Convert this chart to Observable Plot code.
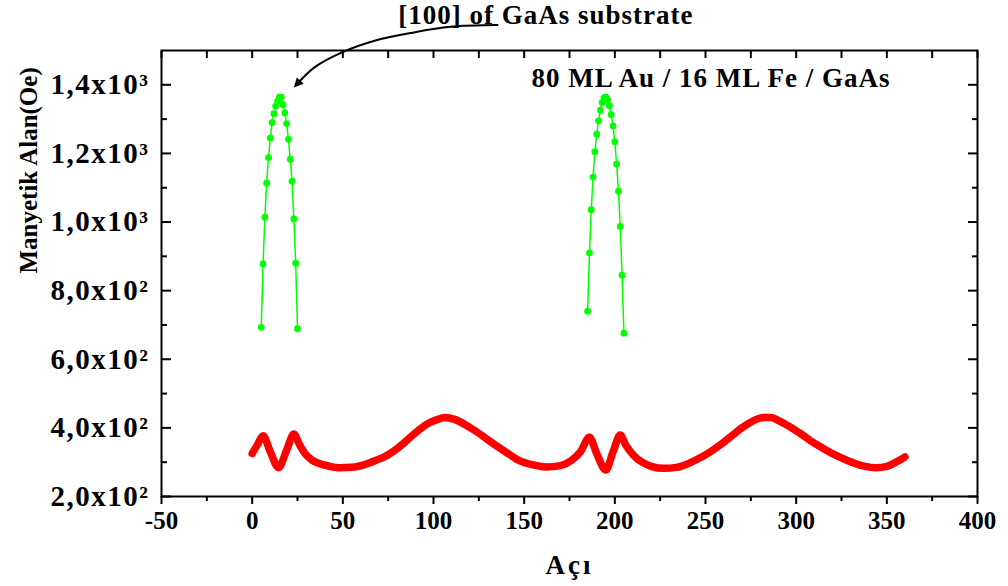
<!DOCTYPE html>
<html><head><meta charset="utf-8">
<script src="https://cdn.jsdelivr.net/npm/d3@7"></script>
<script src="https://cdn.jsdelivr.net/npm/@observablehq/plot@0.6"></script>
<style>
body{margin:0;background:#fff;}
#chart svg{font-family:"Liberation Serif","Times New Roman",serif;font-weight:bold;}
#chart svg g[aria-label="y-axis tick label"]{letter-spacing:1.5px;}
</style></head><body><div id="chart"></div>
<script>
// Green series (two peaks)
const greenAngle1 = [5,6,7,8,9,10,11,12,13,14,15,16,17,18,19,20,21,22,23,24,25];
const greenField1 = [693,878,1014,1113,1188,1245,1290,1316,1338,1352,1364,1364,1342,1318,1287,1241,1183,1119,1009,880,689];
const greenAngle2 = [185,186,187,188,189,190,191,192,193,194,195,196,197,198,199,200,201,202,203,204,205];
const greenField2 = [740,910,1036,1131,1205,1256,1295,1326,1348,1362,1364,1357,1339,1313,1280,1234,1169,1090,987,845,676];
// Red series
const redAngle = [0,3,6,10,14.5,19,23,26,29,33,37,42,48,55,62,68,75,80,85,91,97,102,106,112,118,124,130,136,142,148,155,162,170,176,181,186,190,195,199,203,206,210,215,220,227,234,240,246,252,258,264,270,276,282,286,290,296,302,308,314,320,326,332,338,344,350,355,360];
const redField = [325,352,377,330,284,335,382,352,326,306,296,289,284,285,293,305,322,340,362,390,413,424,430,424,408,388,365,343,322,303,292,286,290,305,330,373,325,277,330,379,350,322,300,288,282,285,295,310,328,350,375,400,420,430,430,422,405,385,362,343,325,310,297,288,284,288,300,315];
// Ticks
const xTicks = [-50,0,50,100,150,200,250,300,350,400];
const xTickLabels = ["-50","0","50","100","150","200","250","300","350","400"];
const xMinorTicks = [-25,25,75,125,175,225,275,325,375];
const yTicks = [200,400,600,800,1000,1200,1400];
const yTickLabels = ["2,0x10²","4,0x10²","6,0x10²","8,0x10²","1,0x10³","1,2x10³","1,4x10³"];
const yMinorTicks = [300,500,700,900,1100,1300];
// Texts
const sampleLabel = ["80 ML Au / 16 ML Fe / GaAs"];
const sampleLabelPos = {x: 253, y: 1418};
const noteLabel = ["[100] of GaAs substrate"];
const notePos = {x: 162, y: 1602};
const arrowAngle = [135.3,109.4,88.4,68.0,49.3,34.9,24.5];
const arrowField = [1574,1569,1552,1529,1494,1453,1401];

const green = [
  ...greenAngle1.map((a,i)=>({angle:a, field:greenField1[i], peak:1})),
  ...greenAngle2.map((a,i)=>({angle:a, field:greenField2[i], peak:2}))
];
const red = redAngle.map((a,i)=>({angle:a, field:redField[i]}));
const arrow = arrowAngle.map((a,i)=>({angle:a, field:arrowField[i]}));

const plot = Plot.plot({
  width: 1008, height: 586,
  marginLeft: 161, marginRight: 31, marginTop: 50, marginBottom: 90,
  x: {domain: [-50, 400]},
  y: {domain: [200, 1500]},
  style: {fontFamily: '"Liberation Serif","Times New Roman",serif', fontWeight: "bold", background: "white", color: "black"},
  marks: [
    Plot.line(red, {x:"angle", y:"field", stroke:"#ff0000", strokeWidth:7.5, strokeLinejoin:"round", curve:"monotone-x"}),
    Plot.line(green, {x:"angle", y:"field", z:"peak", stroke:"#00ff00", strokeWidth:1.5}),
    Plot.dot(green, {x:"angle", y:"field", r:3.4, fill:"#00ff00"}),
    Plot.frame({stroke:"black", strokeWidth:2}),
    Plot.axisX(xTicks, {anchor:"bottom", tickSize:8, tickPadding:7, strokeWidth:2, fontSize:25, fontWeight:"bold", tickFormat: d => xTickLabels[xTicks.indexOf(d)], label:null}),
    Plot.axisX(xMinorTicks, {anchor:"bottom", tickSize:5, strokeWidth:2, tickFormat: () => "", label:null}),
    Plot.axisX(xTicks.concat(xMinorTicks), {anchor:"top", tickSize:-7, tickPadding:0, strokeWidth:2, tickFormat: () => "", label:null}),
    Plot.axisY(yTicks, {anchor:"left", tickSize:-10, tickPadding:22, strokeWidth:2, fontSize:29, fontWeight:"bold", tickFormat: d => yTickLabels[yTicks.indexOf(d)], label:null}),
    Plot.axisY(yMinorTicks, {anchor:"left", tickSize:-6, tickPadding:0, strokeWidth:2, tickFormat: () => "", label:null}),
    Plot.axisY(yTicks, {anchor:"right", tickSize:-10, tickPadding:0, strokeWidth:2, tickFormat: () => "", label:null}),
    Plot.axisY(yMinorTicks, {anchor:"right", tickSize:-6, tickPadding:0, strokeWidth:2, tickFormat: () => "", label:null}),
    Plot.text(sampleLabel, {x: () => sampleLabelPos.x, y: () => sampleLabelPos.y, text: d => d, fontSize: 27, fontWeight: "bold", fill: "black"}),
    Plot.text(noteLabel, {x: () => notePos.x, y: () => notePos.y, text: d => d, fontSize: 27, fontWeight: "bold", fill: "black"}),
    Plot.line(arrow, {x:"angle", y:"field", curve:"catmull-rom", stroke:"black", strokeWidth:2, markerEnd:"arrow"}),
    Plot.text(["Açı"], {frameAnchor:"bottom", dy: 77, text: d => d, fontSize: 27, fontWeight:"bold", fill:"black"}),
    Plot.text(["Manyetik Alan(Oe)"], {frameAnchor:"left", dx: -133, rotate: -90, text: d => d, fontSize: 25, fontWeight:"bold", fill:"black"})
  ]
});
const sel = d3.select(plot);
sel.selectAll("text").filter(function(){ const t = this.textContent; return t === sampleLabel[0] || t === noteLabel[0]; }).style("letter-spacing", "1px");
sel.selectAll("text").filter(function(){ return this.textContent === "Açı"; }).style("letter-spacing", "3px");
sel.selectAll("marker").attr("fill", "black").attr("stroke", "none").select("path").attr("d", "M-4,-3.5L3,0L-4,3.5Z");
document.getElementById("chart").appendChild(plot);
</script></body></html>
